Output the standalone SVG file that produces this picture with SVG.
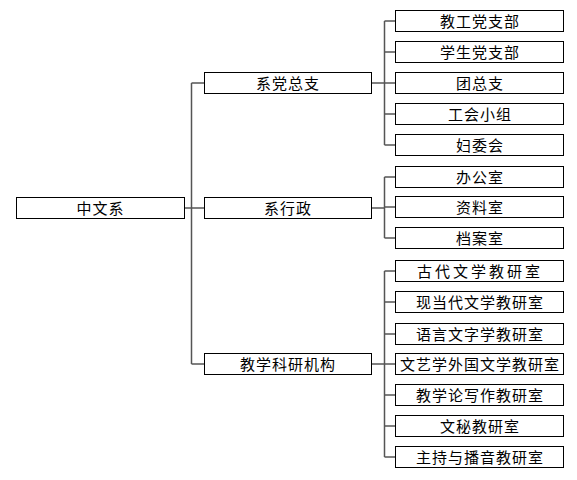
<svg xmlns="http://www.w3.org/2000/svg" width="577" height="480" viewBox="0 0 577 480">
<style>
.b{fill:#fff;stroke:#000;stroke-width:1}
.t{font-family:"Noto Sans CJK SC","Noto Sans CJK TC",sans-serif;font-size:15px;fill:#000;text-anchor:middle;letter-spacing:1px}
.c{fill:none;stroke:#555;stroke-width:1.5}
</style>
<rect width="577" height="480" fill="#fff"/>
<g id="connectors" class="c">
<path d="M184.5,208 H191.5 M191.5,83 V364 M191.5,83 H204.5 M191.5,208 H204.5 M191.5,364 H204.5"/>
<path d="M371.5,83 H384.5 M384.5,21 V145 M384.5,21 H395.5 M384.5,52 H395.5 M384.5,83 H395.5 M384.5,114 H395.5 M384.5,145 H395.5"/>
<path d="M371.5,208 H384.5 M384.5,177 V238 M384.5,177 H395.5 M384.5,207 H395.5 M384.5,238 H395.5"/>
<path d="M371.5,364 H384.5 M384.5,271 V457 M384.5,271 H395.5 M384.5,302 H395.5 M384.5,334 H395.5 M384.5,364 H395.5 M384.5,395 H395.5 M384.5,426 H395.5 M384.5,457 H395.5"/>
</g>
<g id="n-root"><rect class="b" x="16.5" y="197.5" width="168" height="21"/><text class="t" x="100.5" y="214">中文系</text></g>
<g id="n-dangzongzhi"><rect class="b" x="204.5" y="72.5" width="167" height="21"/><text class="t" x="288" y="89">系党总支</text></g>
<g id="n-xingzheng"><rect class="b" x="204.5" y="197.5" width="167" height="21"/><text class="t" x="288" y="214">系行政</text></g>
<g id="n-jiaoxue"><rect class="b" x="204.5" y="353.5" width="167" height="21"/><text class="t" x="288" y="370">教学科研机构</text></g>
<g id="n-1"><rect class="b" x="395.5" y="10.5" width="168" height="21"/><text class="t" x="480" y="27">教工党支部</text></g>
<g id="n-2"><rect class="b" x="395.5" y="41.5" width="168" height="21"/><text class="t" x="480" y="58">学生党支部</text></g>
<g id="n-3"><rect class="b" x="395.5" y="72.5" width="168" height="21"/><text class="t" x="480" y="89">团总支</text></g>
<g id="n-4"><rect class="b" x="395.5" y="103.5" width="168" height="21"/><text class="t" x="480" y="120">工会小组</text></g>
<g id="n-5"><rect class="b" x="395.5" y="134.5" width="168" height="21"/><text class="t" x="480" y="151">妇委会</text></g>
<g id="n-6"><rect class="b" x="395.5" y="166.5" width="168" height="21"/><text class="t" x="480" y="183">办公室</text></g>
<g id="n-7"><rect class="b" x="395.5" y="196.5" width="168" height="21"/><text class="t" x="480" y="213">资料室</text></g>
<g id="n-8"><rect class="b" x="395.5" y="227.5" width="168" height="21"/><text class="t" x="480" y="244">档案室</text></g>
<g id="n-9"><rect class="b" x="395.5" y="260.5" width="168" height="21"/><text class="t" x="480" y="277" style="letter-spacing:3px">古代文学教研室</text></g>
<g id="n-10"><rect class="b" x="395.5" y="291.5" width="168" height="21"/><text class="t" x="480" y="308">现当代文学教研室</text></g>
<g id="n-11"><rect class="b" x="395.5" y="323.5" width="168" height="21"/><text class="t" x="480" y="340">语言文字学教研室</text></g>
<g id="n-12"><rect class="b" x="395.5" y="353.5" width="168" height="21"/><text class="t" x="480" y="370">文艺学外国文学教研室</text></g>
<g id="n-13"><rect class="b" x="395.5" y="384.5" width="168" height="21"/><text class="t" x="480" y="401">教学论写作教研室</text></g>
<g id="n-14"><rect class="b" x="395.5" y="415.5" width="168" height="21"/><text class="t" x="480" y="432">文秘教研室</text></g>
<g id="n-15"><rect class="b" x="395.5" y="446.5" width="168" height="21"/><text class="t" x="480" y="463">主持与播音教研室</text></g>
</svg>
